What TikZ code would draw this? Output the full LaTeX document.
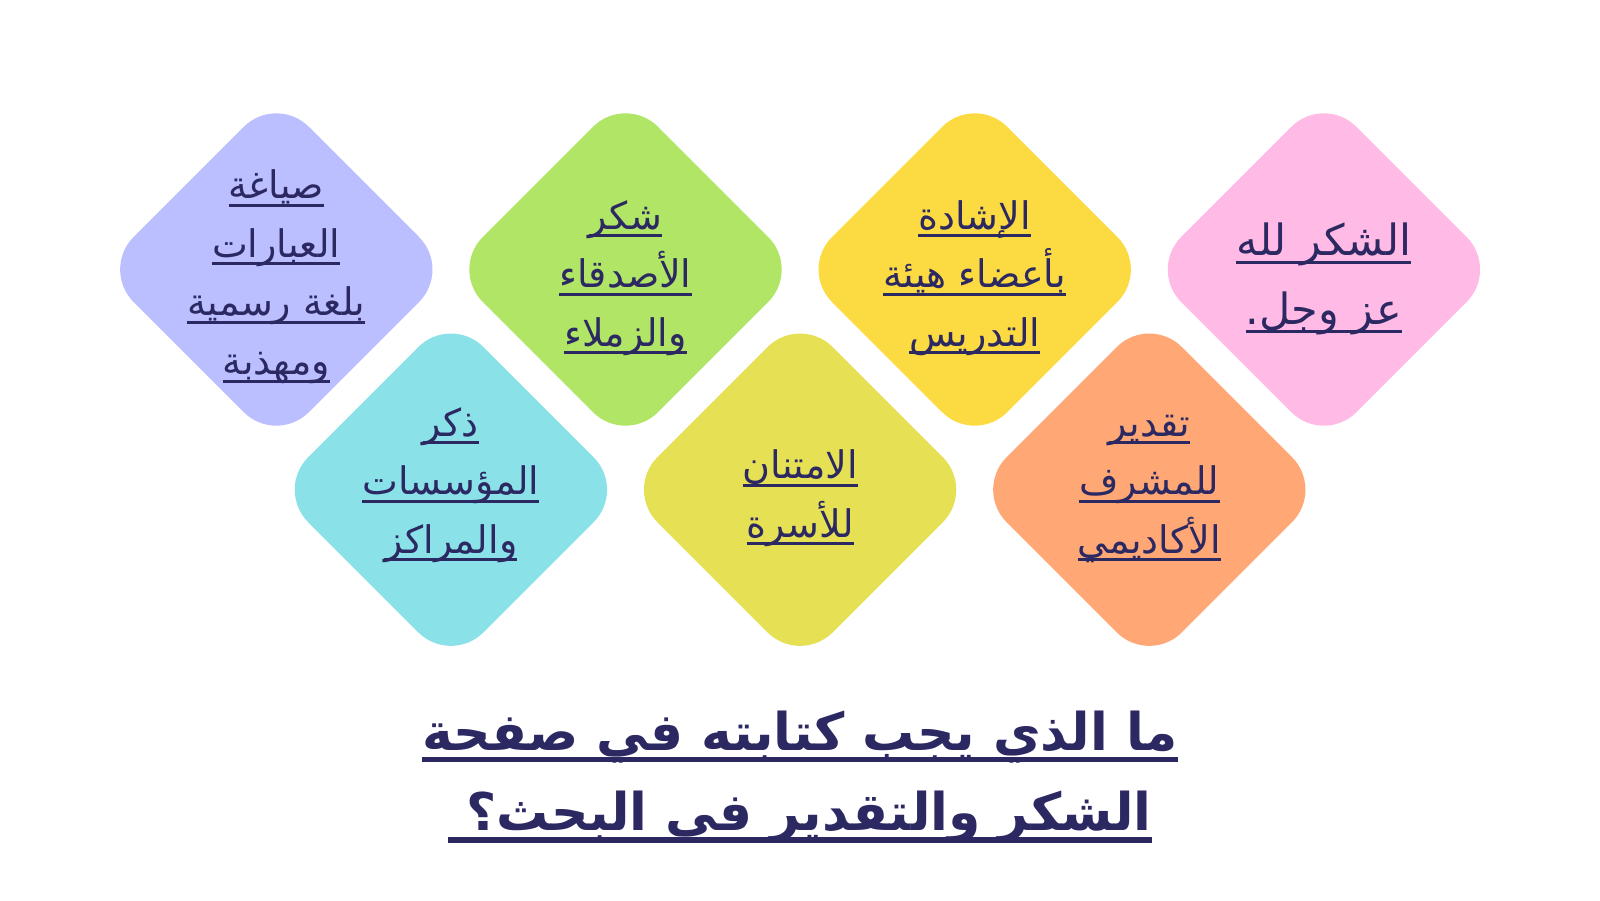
\documentclass[tikz,border=0pt]{standalone}
\usepackage{fontspec}
\usetikzlibrary{shapes.geometric}
\TeXXeTstate=1
\newfontfamily\arabicfont[Script=Arabic]{DejaVu Sans}
\newfontfamily\arabicbold[Script=Arabic]{DejaVu Sans Bold}
\definecolor{ink}{HTML}{2B2862}
\definecolor{cLav}{HTML}{BBBFFF}
\definecolor{cGreen}{HTML}{B0E566}
\definecolor{cYellow}{HTML}{FCDB42}
\definecolor{cPink}{HTML}{FFBAE5}
\definecolor{cCyan}{HTML}{8AE2E8}
\definecolor{cOlive}{HTML}{E6E055}
\definecolor{cOrange}{HTML}{FFA876}
\newcommand\ulA[1]{\setbox0\hbox{\beginR #1\endR}\leavevmode\rlap{\copy0}\rule[-8pt]{\wd0}{3pt}}
\newcommand\ulB[1]{\setbox0\hbox{\beginR #1\endR}\leavevmode\rlap{\copy0}\rule[-9pt]{\wd0}{3.3pt}}
\newcommand\ulT[1]{\setbox0\hbox{\beginR #1\endR}\leavevmode\rlap{\copy0}\rule[-12pt]{\wd0}{5.5pt}}
\newcommand\stack[2]{\vtop{\baselineskip=#1\lineskip=0pt\lineskiplimit=-1000pt\halign{\hfil##\hfil\cr#2\crcr}}}
\tikzset{
  tile/.style={diamond, aspect=1, minimum width=350.6pt, minimum height=350.6pt, inner sep=0pt, rounded corners=46pt, fill=#1},
  tiletext/.style={text=ink, anchor=base, inner sep=0pt, font=\arabicfont\fontsize{38}{58.7}\selectfont},
  bigtext/.style={text=ink, anchor=base, inner sep=0pt, font=\arabicfont\fontsize{43}{69}\selectfont},
  titletext/.style={text=ink, anchor=base, inner sep=0pt, font=\arabicbold\fontsize{52}{80.7}\selectfont}
}
\begin{document}
\begin{tikzpicture}[x=1pt,y=-1pt]
\useasboundingbox (0,0) rectangle (1600,900);
\node[tile=cLav] (d1) at (276.3,269.5) {};
\node[tile=cGreen] (d2) at (625.5,269.5) {};
\node[tile=cYellow] (d3) at (974.7,269.5) {};
\node[tile=cPink] (d4) at (1323.9,269.5) {};
\node[tile=cCyan] (d5) at (450.9,489.7) {};
\node[tile=cOlive] (d6) at (800.1,489.7) {};
\node[tile=cOrange] (d7) at (1149.3,489.7) {};
\node[tiletext] (t1) at (276.3,198.5) {\stack{58.7pt}{\ulA{صياغة}\cr\ulA{العبارات}\cr\ulA{بلغة رسمية}\cr\ulA{ومهذبة}}};
\node[tiletext] (t2) at (625.5,229) {\stack{58.7pt}{\ulA{شكر}\cr\ulA{الأصدقاء}\cr\ulA{والزملاء}}};
\node[tiletext] (t3) at (974.7,229) {\stack{58.7pt}{\ulA{الإشادة}\cr\ulA{بأعضاء هيئة}\cr\ulA{التدريس}}};
\node[bigtext] (t4) at (1323.9,255) {\stack{69pt}{\ulB{الشكر لله}\cr\ulB{عز وجل.}}};
\node[tiletext] (t5) at (450.9,436) {\stack{58.7pt}{\ulA{ذكر}\cr\ulA{المؤسسات}\cr\ulA{والمراكز}}};
\node[tiletext] (t6) at (800.1,478.5) {\stack{58.7pt}{\ulA{الامتنان}\cr\ulA{للأسرة}}};
\node[tiletext] (t7) at (1149.3,436) {\stack{58.7pt}{\ulA{تقدير}\cr\ulA{للمشرف}\cr\ulA{الأكاديمي}}};
\node[titletext] (title) at (800,750) {\stack{80.7pt}{\ulT{ما الذي يجب كتابته في صفحة}\cr\ulT{الشكر والتقدير في البحث؟ }}};
\end{tikzpicture}
\end{document}
